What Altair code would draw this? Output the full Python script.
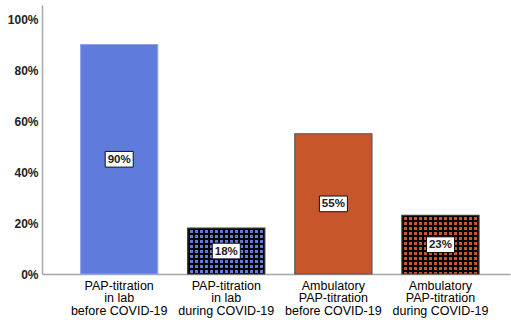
import math
import altair as alt
import pandas as pd

# ---- data -------------------------------------------------------------
categories = [
    "PAP-titration\nin lab\nbefore COVID-19",
    "PAP-titration\nin lab\nduring COVID-19",
    "Ambulatory\nPAP-titration\nbefore COVID-19",
    "Ambulatory\nPAP-titration\nduring COVID-19",
]
shares = [0.90, 0.18, 0.55, 0.23]
value_labels = ["90%", "18%", "55%", "23%"]
fill_colors = ["#5f7bdb", "#5f7bdb", "#c8562b", "#c8562b"]
outline_colors = ["#8fa3ea", "#3a3a3a", "#555555", "#3a3a3a"]
checkered = [False, True, False, True]

df = pd.DataFrame({
    "cat": categories,
    "share": shares,
    "label": value_labels,
    "mid": [s / 2 for s in shares],
})

# ---- geometry ---------------------------------------------------------
PLOT_W, PLOT_H = 468, 269
Y_MAX = 1.055
PAD_INNER, PAD_OUTER = 0.28, 0.325
step = PLOT_W / (len(categories) - PAD_INNER + 2 * PAD_OUTER)
bar_w = step * (1 - PAD_INNER)

x_enc = alt.X(
    "cat:N",
    sort=categories,
    title=None,
    scale=alt.Scale(paddingInner=PAD_INNER, paddingOuter=PAD_OUTER, align=0.555),
    axis=alt.Axis(
        labelAngle=0,
        labelExpr="split(datum.label, '\\n')",
        labelFont="Liberation Sans",
        labelFontSize=12.5,
        labelColor="#000000",
        labelLineHeight=12.5,
        labelPadding=5,
        ticks=False,
        domainColor="#a6a6a6",
        domainWidth=1.5,
        labelBaseline="top",
    ),
)
y_scale = alt.Scale(domain=[0, Y_MAX], nice=False, zero=True)
y_enc = alt.Y(
    "share:Q",
    title=None,
    scale=y_scale,
    axis=alt.Axis(
        values=[0, 0.2, 0.4, 0.6, 0.8, 1.0],
        format=".0%",
        grid=False,
        ticks=False,
        labelFont="Liberation Sans",
        labelFontSize=12,
        labelFontWeight="bold",
        labelColor="#222222",
        labelPadding=4,
        domainColor="#a6a6a6",
        domainWidth=1.5,
    ),
)

base = alt.Chart(df)

bars = base.mark_bar().encode(
    x=x_enc,
    y=y_enc,
    color=alt.Color("cat:N", sort=categories,
                    scale=alt.Scale(domain=categories, range=fill_colors),
                    legend=None),
)


def stripe_gradient(length_px, horizontal_bands, period=5.0, dark=2.0):
    """Hard-stop gradient giving black bands separated by clear gaps."""
    stops = []
    n = int(math.ceil(length_px / period))
    for i in range(n):
        a = min(1.0, i * period / length_px)
        b = min(1.0, (i * period + dark) / length_px)
        c = min(1.0, (i + 1) * period / length_px)
        stops += [
            alt.GradientStop(offset=a, color="#000000"),
            alt.GradientStop(offset=b, color="#000000"),
            alt.GradientStop(offset=b, color="rgba(0,0,0,0)"),
            alt.GradientStop(offset=c, color="rgba(0,0,0,0)"),
        ]
    if horizontal_bands:
        return alt.LinearGradient(gradient="linear", stops=stops, x1=0, x2=0, y1=0, y2=1)
    return alt.LinearGradient(gradient="linear", stops=stops, x1=0, x2=1, y1=0, y2=0)


layers = [bars]
for cat, share, chk in zip(categories, shares, checkered):
    if not chk:
        continue
    h_px = share / Y_MAX * PLOT_H
    one = base.transform_filter(alt.datum.cat == cat)
    layers.append(one.mark_bar(fill=stripe_gradient(h_px, True)).encode(x=x_enc, y=y_enc))
    layers.append(one.mark_bar(fill=stripe_gradient(bar_w, False)).encode(x=x_enc, y=y_enc))

outlines = base.mark_bar(filled=False, strokeWidth=1.2).encode(
    x=x_enc,
    y=y_enc,
    stroke=alt.Stroke("cat:N", sort=categories,
                      scale=alt.Scale(domain=categories, range=outline_colors),
                      legend=None),
)
layers.append(outlines)

boxes = base.mark_point(
    shape="M-1,-0.56L1,-0.56L1,0.56L-1,0.56Z",
    size=28 * 28,
    filled=True,
    fill="white",
    stroke="#111111",
    strokeWidth=1,
    opacity=1,
).encode(x=x_enc, y=alt.Y("mid:Q", scale=y_scale))
layers.append(boxes)

texts = base.mark_text(
    font="Liberation Sans",
    fontSize=11.5,
    fontWeight="bold",
    color="#222222",
    baseline="middle",
    dy=0.5,
).encode(x=x_enc, y=alt.Y("mid:Q", scale=y_scale), text="label:N")
layers.append(texts)

chart = alt.layer(*layers).properties(
    width=PLOT_W,
    height=PLOT_H,
    autosize=alt.AutoSizeParams(type="none"),
    padding={"left": 42, "top": 5, "right": 1, "bottom": 46},
    background="white",
).configure_view(stroke=None)

chart.save("out.html", embed_options={"renderer": "svg", "actions": False})
